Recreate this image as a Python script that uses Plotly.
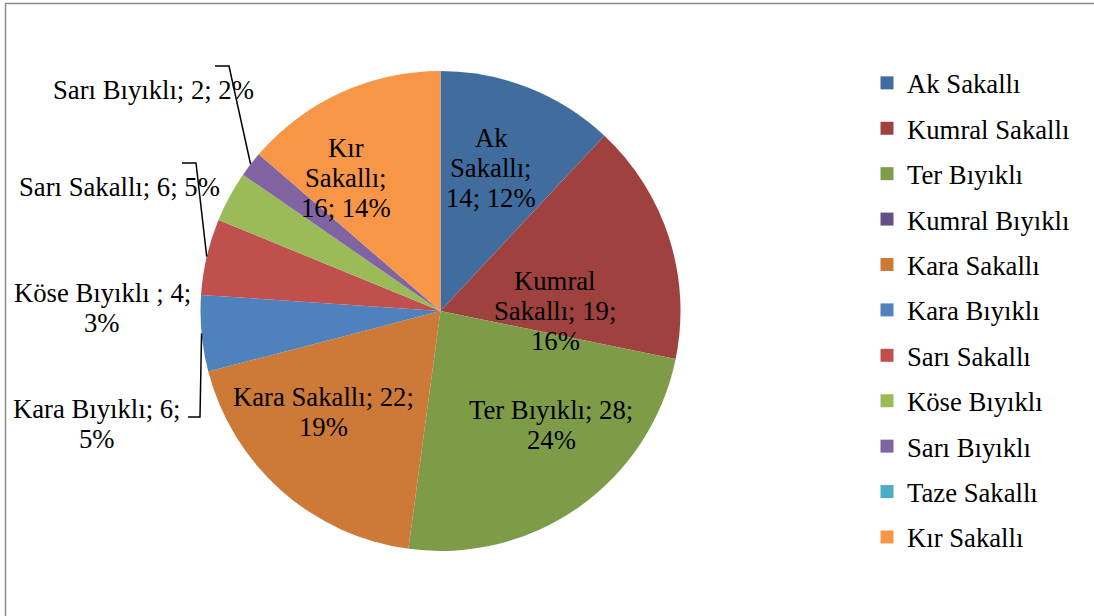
import math
import plotly.graph_objects as go

# ---------------- data ----------------
categories = ["Ak Sakallı", "Kumral Sakallı", "Ter Bıyıklı", "Kumral Bıyıklı",
              "Kara Sakallı", "Kara Bıyıklı", "Sarı Sakallı", "Köse Bıyıklı ",
              "Sarı Bıyıklı", "Taze Sakallı", "Kır Sakallı"]
values = [14, 19, 28, 0, 22, 6, 6, 4, 2, 0, 16]
colors = ["#416C9E", "#9E413F", "#7E9B48", "#654F88", "#CD7A38", "#4F81BD",
          "#C0504D", "#9BBB59", "#8064A2", "#4BACC6", "#F79646"]

# ---------------- layout constants ----------------
W, H = 1094, 616
CX, CY, R = 440.5, 311, 240
FONT = "Liberation Serif"
FS = 26.7
LH = 30

def px(x):
    return x / W

def py(y):
    return 1 - y / H

total = sum(values)
pct = [round(v / total * 100) for v in values]

fig = go.Figure()
fig.add_trace(go.Pie(
    labels=categories, values=values, sort=False, direction="clockwise",
    rotation=0, marker=dict(colors=colors, line=dict(width=0)),
    textinfo="none", hoverinfo="label+value+percent", showlegend=False,
    domain=dict(x=[px(CX - R), px(CX + R)], y=[py(CY + R), py(CY - R)]),
))

# legend entries (one group per category so spacing can match)
for name, col in zip(categories, colors):
    fig.add_trace(go.Scatter(
        x=[None], y=[None], mode="markers", name=name.strip(),
        legendgroup=name, showlegend=True,
        marker=dict(symbol="square", size=13, color=col),
    ))

# label placement: index -> (center x, center y, words per line)
label_pos = {
    0: (491, 168, [1, 1, 2]),
    1: (555, 311, [1, 2, 1]),
    2: (551, 425, [3, 1]),
    4: (323, 412, [3, 1]),
    10: (346, 178, [1, 1, 2]),
    8: (153, 90, [4]),
    6: (119, 187, [4]),
    7: (102, 308, [4, 1]),
    5: (97, 424, [3, 1]),
}

annotations = []
for i, (lx, ly, split) in label_pos.items():
    s = f"{categories[i]}; {values[i]}; {pct[i]}%"
    words = s.split(" ")
    lines, k = [], 0
    for n in split:
        lines.append(" ".join(words[k:k + n]))
        k += n
    nl = len(lines)
    for j, t in enumerate(lines):
        yy = ly + (j - (nl - 1) / 2) * LH
        annotations.append(dict(
            x=px(lx), y=py(yy), xref="paper", yref="paper", text=t,
            showarrow=False, xanchor="center", yanchor="middle",
            font=dict(family=FONT, size=FS, color="black"),
        ))

# leader lines: label-side bend points, ending at slice mid-angle on pie edge
leaders = {
    8: [(215, 66), (229, 66)],
    6: [(182, 163), (196, 163)],
    5: [(188, 417), (200, 417)],
}
cum = [sum(values[:i]) for i in range(len(values))]
shapes = []
for i, pts in leaders.items():
    mid = (cum[i] + values[i] / 2) / total * 2 * math.pi
    ex = CX + R * math.sin(mid)
    ey = CY - R * math.cos(mid)
    allp = pts + [(ex, ey)]
    path = "M " + " L ".join(f"{px(a):.5f},{py(b):.5f}" for a, b in allp)
    shapes.append(dict(type="path", path=path, xref="paper", yref="paper",
                       line=dict(color="black", width=1.5)))

# chart frame
shapes.append(dict(type="rect", xref="paper", yref="paper",
                   x0=px(5.5), x1=px(1100), y0=py(640), y1=py(3.5),
                   line=dict(color="#8C8C8C", width=1.5)))

fig.update_layout(
    width=W, height=H, margin=dict(l=0, r=0, t=0, b=0),
    paper_bgcolor="white", plot_bgcolor="white",
    xaxis=dict(visible=False), yaxis=dict(visible=False),
    showlegend=True,
    legend=dict(x=px(867), y=py(59), xanchor="left", yanchor="top",
                font=dict(family=FONT, size=FS, color="black"),
                tracegroupgap=7.7, bgcolor="rgba(0,0,0,0)"),
    annotations=annotations, shapes=shapes,
)

fig.write_html("out.html", config={"displayModeBar": False},
               post_script="document.body.style.margin='0px';document.body.style.overflow='hidden';")
